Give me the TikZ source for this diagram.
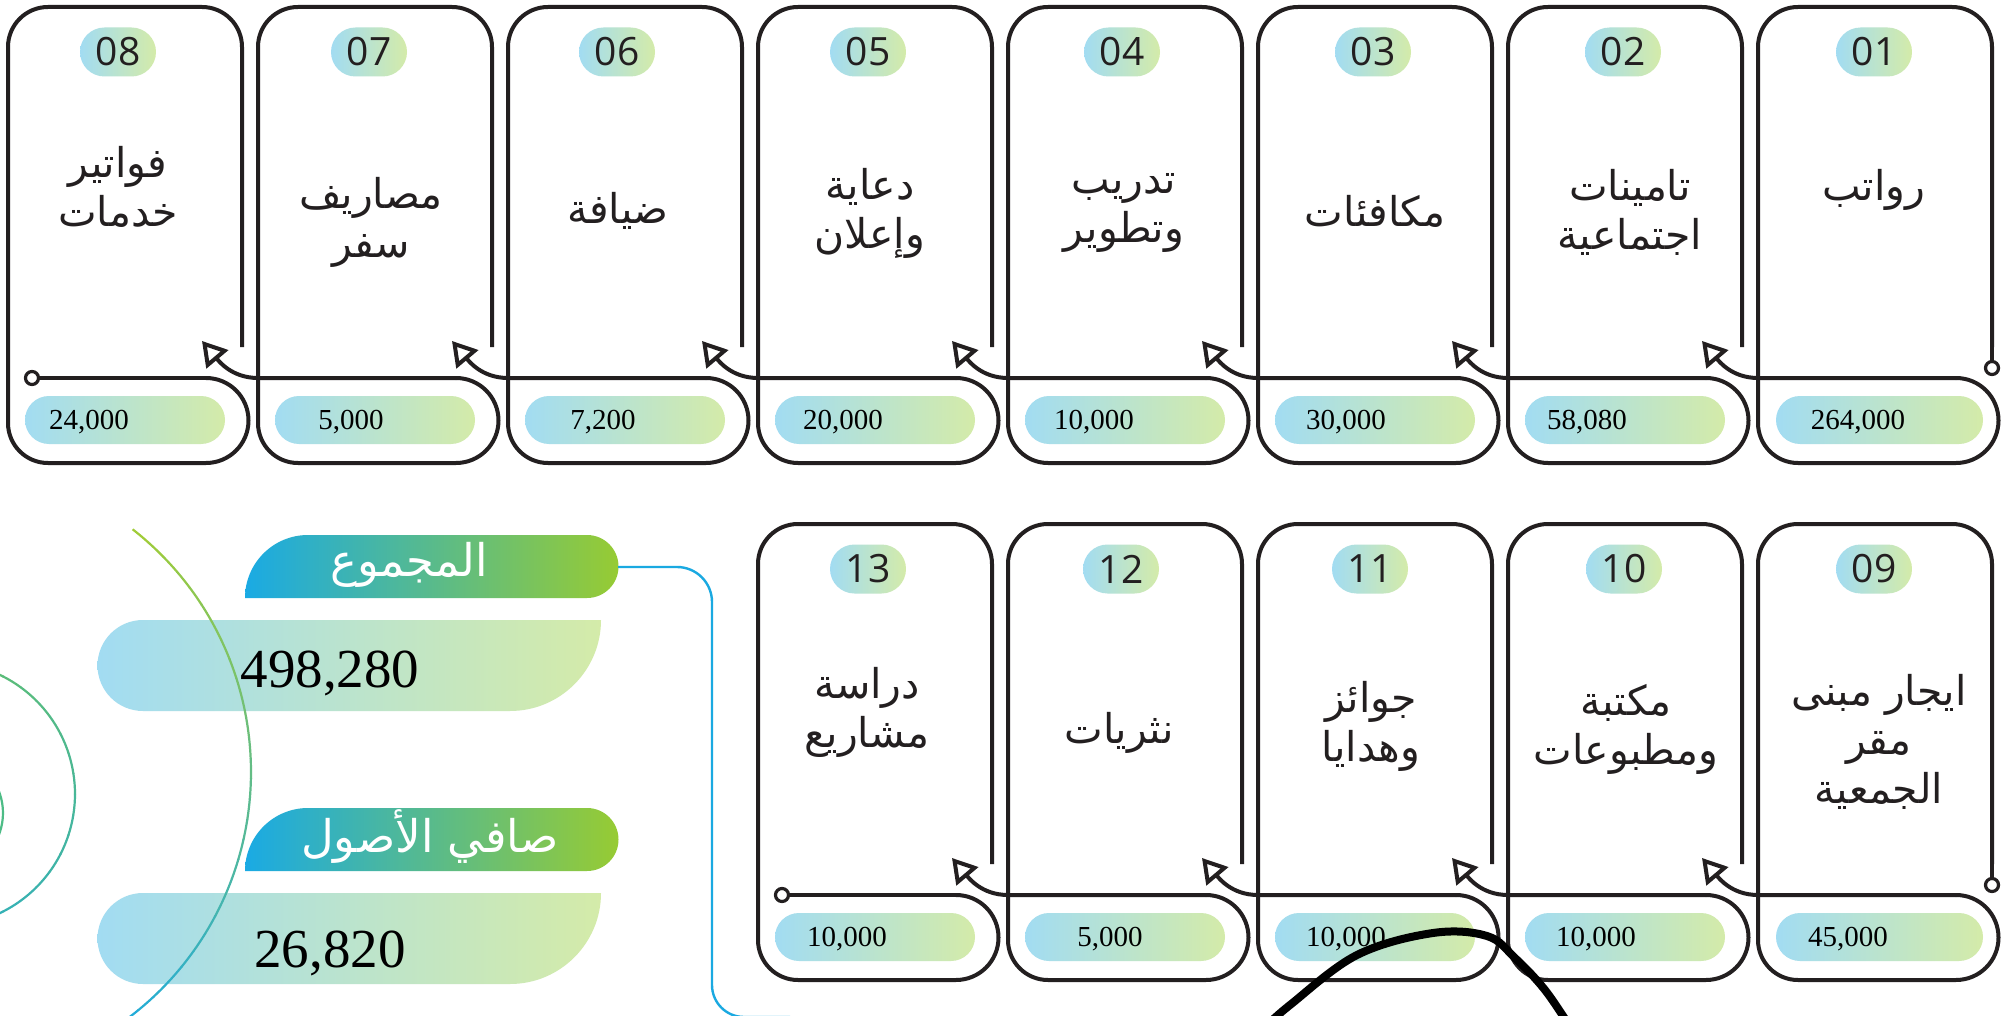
\documentclass[tikz,border=0pt]{standalone}
\usepackage{fontspec}
\usetikzlibrary{arrows.meta}
\TeXXeTstate=1
\newfontfamily\arabicfont[Script=Arabic]{DejaVu Sans}
\newfontfamily\numfont{Open Sans}
\newfontfamily\valfont{Liberation Serif}
\newcommand{\arl}[1]{\beginR #1\endR}
\definecolor{ink}{HTML}{231F20}
\definecolor{pillL}{HTML}{A2DCF2}
\definecolor{pillR}{HTML}{D4EBA9}
\definecolor{headL}{HTML}{1AAAE4}
\definecolor{headR}{HTML}{97CB33}
\definecolor{linkblue}{HTML}{1AA9E1}
\definecolor{arcTop}{HTML}{A0CC38}
\definecolor{arcBot}{HTML}{1AAAE4}
\definecolor{medTop}{HTML}{62BF6F}
\definecolor{medBot}{HTML}{2FAFC0}
\definecolor{smallArc}{HTML}{4DBC86}
\tikzset{
 cardline/.style={draw=ink, line width=4pt, line join=round},
 flow/.style={draw=ink, line width=4pt, -{Triangle[open, length=24pt, width=28pt]}},
 plainflow/.style={draw=ink, line width=4pt},
 dotnode/.style={circle, draw=ink, line width=3.2pt, fill=white, minimum size=13pt, inner sep=0pt},
 numpill/.style={rounded corners=24.5pt, minimum width=76pt, minimum height=49pt, inner sep=0pt, left color=pillL, right color=pillR, text=ink, font=\numfont\fontsize{39}{40}\selectfont},
 valpill/.style={rounded corners=24pt, minimum height=48pt, inner sep=0pt, left color=pillL, right color=pillR},
 valtext/.style={inner sep=0pt, text depth=0pt, text=black, font=\valfont\fontsize{29}{30}\selectfont},
 titletext/.style={align=center, inner sep=0pt, text=ink, font=\arabicfont\fontsize{41}{49}\selectfont},
 headtext/.style={inner sep=0pt, text=white, font=\arabicfont\fontsize{45}{48}\selectfont},
 bigval/.style={inner sep=0pt, anchor=base, text=black, font=\valfont\fontsize{55}{60}\selectfont},
 arcline/.style={line width=2.2pt},
}
% #1 id, #2 L, #3 T, #4 number, #5 number x, #6 title, #7 title pos, #8 value x, #9 value
\newcommand{\card}[9]{%
\begin{scope}[shift={(#2,-#3)}]
 \draw[cardline] (234,-340) coordinate (r#1) -- (234,-40)
   arc[start angle=0,end angle=90,radius=40] -- (40,0)
   arc[start angle=90,end angle=180,radius=40] -- (0,-416)
   arc[start angle=180,end angle=270,radius=40] -- (198,-456)
   arc[start angle=-90,end angle=90,radius=42.5] coordinate (a#1);
 \coordinate (o#1) at (0,-371);
 \coordinate (t#1) at (194,-334);
 \coordinate (d#1) at (234,-361);
 \coordinate (e#1) at (24,-371);
 \node[numpill] (n#1) at (#5,-45) {#4};
 \node[titletext] (ttl#1) at (#7) {#6};
 \node[valpill, minimum width=\pillw] (p#1) at (\pillx,-413) {};
 \node[valtext] (v#1) at (#8,-413) {#9};
\end{scope}}
\begin{document}
\begin{tikzpicture}[x=1pt,y=1pt]
\useasboundingbox (0,0) rectangle (2008,-1016);
\clip (0,0) rectangle (2008,-1016);
\fill[white] (0,0) rectangle (2008,-1016);

% ---------- cards, top row ----------
\def\pillw{207pt}\def\pillx{121.5}
\card{1}{1758}{7}{01}{116}{\arl{رواتب}}{116,-183}{100}{264,000}
\def\pillw{200pt}\def\pillx{117}
\card{2}{1508}{7}{02}{115}{\arl{تامينات}\\\arl{اجتماعية}}{122,-205}{79}{58,080}
\card{3}{1258}{7}{03}{115}{\arl{مكافئات}}{117,-204}{88}{30,000}
\card{4}{1008}{7}{04}{114}{\arl{تدريب}\\\arl{وتطوير}}{116,-206}{86}{10,000}
\card{5}{758}{7}{05}{110}{\arl{دعاية}\\\arl{وإعلان}}{112,-206}{85}{20,000}
\card{6}{508}{7}{06}{109}{\arl{ضيافة}}{110,-204}{95}{7,200}
\card{7}{258}{7}{07}{111}{\arl{مصاريف}\\\arl{سفر}}{113,-215}{93}{5,000}
\card{8}{8}{7}{08}{110}{\arl{فواتير}\\\arl{خدمات}}{110,-180}{81}{24,000}
% ---------- cards, bottom row ----------
\def\pillw{207pt}\def\pillx{121.5}
\card{9}{1758}{524}{09}{116}{\arl{ايجار مبنى}\\\arl{مقر}\\\arl{الجمعية}}{121,-218}{90}{45,000}
\def\pillw{200pt}\def\pillx{117}
\card{10}{1508}{524}{10}{116}{\arl{مكتبة}\\\arl{ومطبوعات}}{118,-205}{88}{10,000}
\card{11}{1258}{524}{11}{112}{\arl{جوائز}\\\arl{وهدايا}}{113,-202}{88}{10,000}
\card{12}{1008}{524}{12}{113}{\arl{نثريات}}{111,-209}{102}{5,000}
\card{13}{758}{524}{13}{110}{\arl{دراسة}\\\arl{مشاريع}}{109,-188}{89}{10,000}

% start dots
\node[dotnode] (sd1) at (d1) {};
\draw[cardline] (r1) -- (sd1);
\node[dotnode] (sd9) at (d9) {};
\draw[cardline] (r9) -- (sd9);
% end dots
\node[dotnode] (ed8) at (e8) {};
\draw[plainflow] (a8) -- (ed8);
\node[dotnode] (ed13) at (e13) {};
\draw[plainflow] (a13) -- (ed13);
% arrows between cards
\foreach \p/\q in {1/2,2/3,3/4,4/5,5/6,6/7,7/8,9/10,10/11,11/12,12/13}
  \draw[flow] (a\p) -- (o\p) to[out=180,in=-50] (t\q);

% ---------- left summary ----------
\shade[left color=headL, right color=headR] (245,-598) arc[start angle=180,end angle=90,radius=63] -- (587,-535) arc[start angle=90,end angle=-90,radius=31.5] -- cycle;
\shade[left color=headL, right color=headR] (245,-871) arc[start angle=180,end angle=90,radius=63] -- (587,-808) arc[start angle=90,end angle=-90,radius=31.5] -- cycle;
\shade[left color=pillL, right color=pillR] (143,-620) arc[start angle=90,end angle=270,radius=45.5] -- (510,-711) arc[start angle=-90,end angle=0,radius=91] -- cycle;
\shade[left color=pillL, right color=pillR] (143,-893) arc[start angle=90,end angle=270,radius=45.5] -- (510,-984) arc[start angle=-90,end angle=0,radius=91] -- cycle;

\node[headtext] (h1) at (409,-565) {\arl{المجموع}};
\node[headtext] (h2) at (430,-837) {\arl{صافي الأصول}};
\coordinate (h1e) at (618,-567);
\coordinate (cend) at (790,-1017);
\draw[linkblue, line width=2.4pt] (h1e) -- (677,-567) arc[start angle=90,end angle=0,radius=35] -- (712,-985) arc[start angle=180,end angle=270,radius=32] -- (cend);

% decorative arcs
\foreach \k in {0,...,29}{
  \pgfmathsetmacro\st{52-\k*3.8}
  \pgfmathsetmacro\pc{100-\k*100/29}
  \draw[arcline, draw=arcTop!\pc!arcBot] (-57,-772) ++(\st:308) arc[start angle=\st, delta angle=-3.9, radius=308];
}
\foreach \k in {0,...,19}{
  \pgfmathsetmacro\st{90-\k*9}
  \pgfmathsetmacro\pc{100-\k*100/19}
  \draw[arcline, draw=medTop!\pc!medBot] (-57,-794) ++(\st:132) arc[start angle=\st, delta angle=-9.2, radius=132];
}
\draw[arcline, draw=smallArc] (-57,-813) ++(40:60) arc[start angle=40, end angle=-40, radius=60];

\node[bigval] (tot) at (330,-687) {498,280};
\node[bigval] (net) at (330,-967) {26,820};

% thick stroke at bottom
\draw[line width=8pt, black, line cap=round] plot[smooth, tension=0.6] coordinates {(1262,-1030) (1290,-1005) (1357,-955) (1433,-933) (1487,-936) (1515,-958) (1545,-990) (1572,-1030)};
\end{tikzpicture}
\end{document}
